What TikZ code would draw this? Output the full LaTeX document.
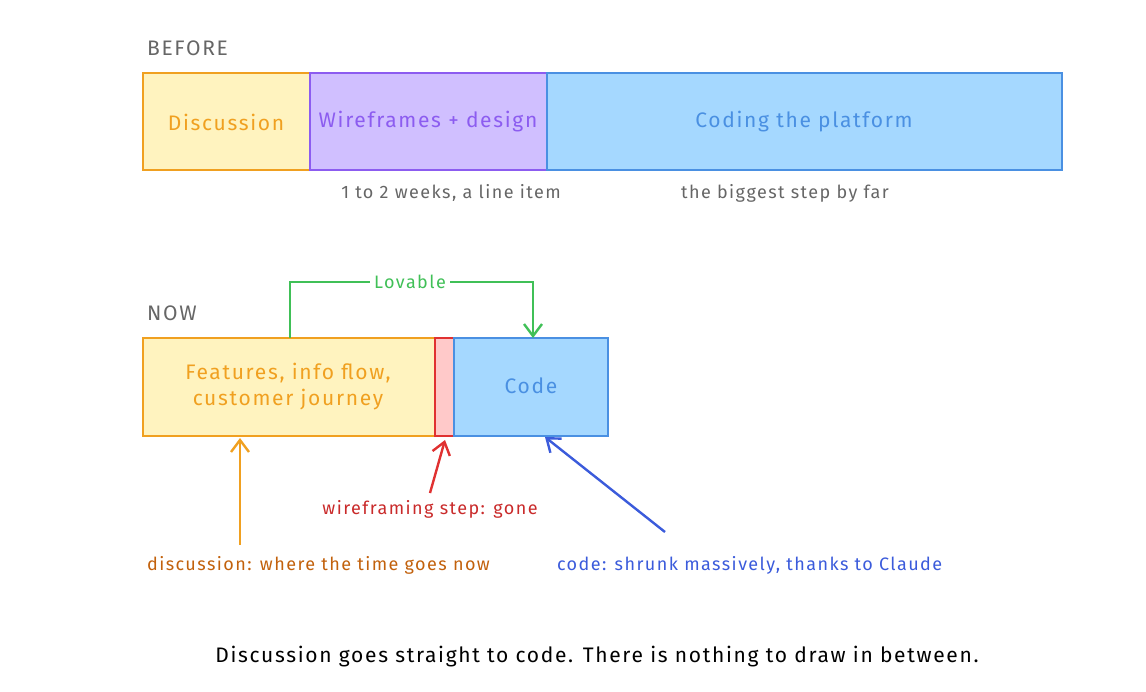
\documentclass[tikz,border=0pt]{standalone}
\usepackage{fontspec}
\setmainfont[LetterSpace=8]{Fira Sans}
\usetikzlibrary{arrows.meta,positioning}
\definecolor{ylwfill}{HTML}{FFF3BF}\definecolor{ylwline}{HTML}{F0A020}
\definecolor{vltfill}{HTML}{D0BFFF}\definecolor{vltline}{HTML}{8C5CF0}
\definecolor{blufill}{HTML}{A5D8FF}\definecolor{bluline}{HTML}{4A90E2}
\definecolor{redfill}{HTML}{FFC9C9}\definecolor{redline}{HTML}{E03131}
\definecolor{grnline}{HTML}{40C057}\definecolor{txtgray}{HTML}{666666}
\definecolor{orgtext}{HTML}{C2610C}\definecolor{redtext}{HTML}{C92A2A}
\definecolor{blutext}{HTML}{3B5BDB}
\tikzset{
  box/.style={draw, line width=1.2pt, inner sep=0pt},
  big/.style={font=\fontsize{10.5}{13}\selectfont},
  head/.style={big, text=txtgray, anchor=west},
  note/.style={font=\fontsize{9}{11}\selectfont},
  arr/.style={line width=1.2pt, -{Straight Barb[length=6pt,width=9pt]}}
}
\begin{document}
\begin{tikzpicture}[x=0.5pt,y=-0.5pt]
\useasboundingbox (0,0) rectangle (1146,691);
% before
\node[head] (before) at (140,48) {BEFORE};
\draw[box, draw=ylwline, fill=ylwfill] (143,73) rectangle (310,170);
\draw[box, draw=vltline, fill=vltfill] (310,73) rectangle (547,170);
\draw[box, draw=bluline, fill=blufill] (547,73) rectangle (1062,170);
\node[big, text=ylwline] (disc) at (226,122) {Discussion};
\node[big, text=vltline] (wire) at (428,122) {Wireframes + design};
\node[big, text=bluline] (coding) at (804,122) {Coding the platform};
\node[note, text=txtgray] (weeks) at (451,193) {1 to 2 weeks, a line item};
\node[note, text=txtgray] (big) at (785,193) {the biggest step by far};
% now
\node[head] (now) at (140,313) {NOW};
\draw[box, draw=ylwline, fill=ylwfill] (143,338) rectangle (435,436);
\draw[box, draw=redline, fill=redfill] (435,338) rectangle (454,436);
\draw[box, draw=bluline, fill=blufill] (454,338) rectangle (608,436);
\node[big, text=ylwline, align=center] (feat) at (288,387) {Features, info flow,\\customer journey};
\node[big, text=bluline] (code) at (531,386) {Code};
\coordinate (lovA) at (290,338);
\coordinate (lovB) at (533,338);
\draw[line width=1.2pt, grnline, -{Straight Barb[length=6pt,width=9pt]}] (lovA) |- (410,282) -| (lovB);
\node[note, text=grnline, fill=white, inner sep=2pt] (lovable) at (410,282) {Lovable};
% notes
\node[note, text=orgtext, anchor=west] (ndisc) at (140,565) {discussion: where the time goes now};
\node[note, text=redtext] (nwire) at (430,509) {wireframing step: gone};
\node[note, text=blutext, anchor=west] (ncode) at (550,565) {code: shrunk massively, thanks to Claude};
\coordinate (tdisc) at (240,438);
\coordinate (twire) at (445,440);
\coordinate (tcode) at (545,437);
\draw[arr, ylwline] (240,545) -- (tdisc);
\draw[arr, redline] (nwire.north) -- (twire);
\draw[arr, blutext] (665,532) -- (tcode);
\node[big] (summary) at (597,657) {Discussion goes straight to code. There is nothing to draw in between.};
\end{tikzpicture}
\end{document}
